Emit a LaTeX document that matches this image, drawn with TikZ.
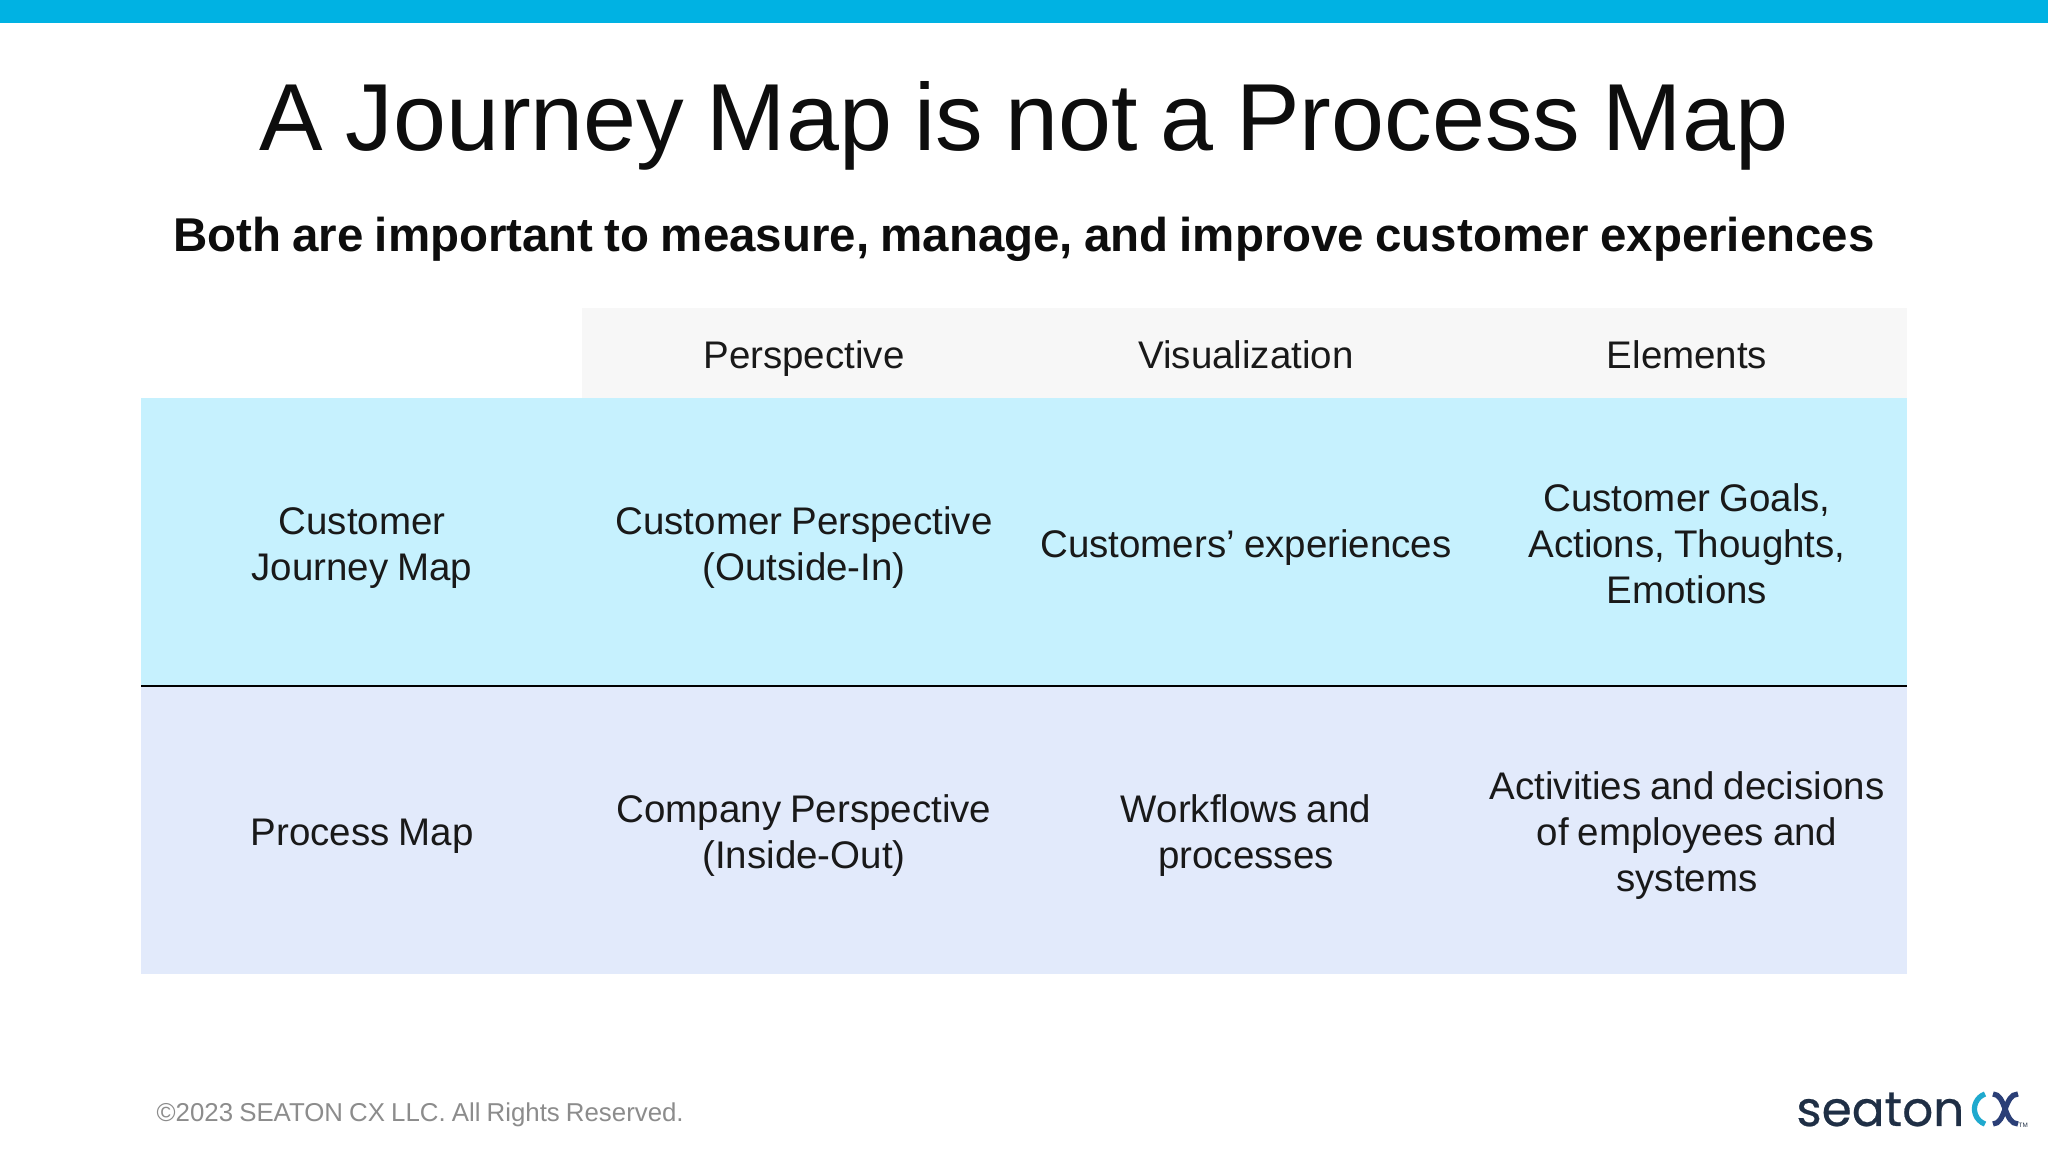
\documentclass[tikz,border=0pt]{standalone}
\usepackage{fontspec}
\usepackage{xcolor}
\setmainfont[WordSpace=0.85]{Liberation Sans}
\newfontfamily\logofont[FakeBold=0.5]{Poppins}
\usetikzlibrary{positioning}
\definecolor{barblue}{HTML}{00B2E3}
\definecolor{headgray}{HTML}{F7F7F7}
\definecolor{journeyblue}{HTML}{C6F1FE}
\definecolor{processblue}{HTML}{E2EAFB}
\definecolor{footgray}{HTML}{8C8C8C}
\definecolor{logonavy}{HTML}{1F2F45}
\definecolor{logocyan}{HTML}{1FA9CE}
\definecolor{logoindigo}{HTML}{2B3F77}
\tikzset{
    cell/.style={inner sep=0pt, align=flush center, text width=4.3cm, font=\fontsize{10.95}{13.1}\selectfont, text=black!90,
        execute at begin node=\strut, execute at end node=\strut},
    head/.style={cell, minimum height=0.9cm},
    rowcell/.style={cell, minimum height=2.87cm}
}

\begin{document}
\begin{tikzpicture}
    \useasboundingbox (0,0) rectangle (20.48,11.52);
    \fill[white] (0,0) rectangle (20.48,11.52);
    \fill[barblue] (0,11.29) rectangle (20.48,11.52);

    % table backgrounds
    \fill[headgray] (5.82,8.44) rectangle (19.07,7.54);
    \fill[journeyblue] (1.41,7.54) rectangle (19.07,4.66);
    \fill[processblue] (1.41,4.66) rectangle (19.07,1.78);

    \node[font=\fontsize{27.1}{32}\selectfont, text=black!95] (title) at (10.24,10.26) {A Journey Map is not a Process Map};
    \node[font=\fontsize{13.5}{17}\selectfont\bfseries, text=black!95] (subtitle) at (10.24,9.13) {Both are important to measure, manage, and improve customer experiences};

    % header row
    \node[head] (perspective) at (8.04,7.93) {Perspective};
    \node[head] (visualization) at (12.46,7.93) {Visualization};
    \node[head] (elements) at (16.87,7.93) {Elements};

    % journey row
    \node[rowcell] (journey) at (3.62,6.04) {Customer\\Journey Map};
    \node[rowcell] (journeypersp) at (8.04,6.04) {Customer Perspective\\(Outside-In)};
    \node[rowcell] (journeyvis) at (12.46,6.04) {Customers’ experiences};
    \node[rowcell] (journeyelem) at (16.87,6.04) {Customer Goals,\\Actions, Thoughts,\\Emotions};

    % process row
    \node[rowcell] (process) at (3.62,3.16) {Process Map};
    \node[rowcell] (processpersp) at (8.04,3.16) {Company Perspective\\(Inside-Out)};
    \node[rowcell] (processvis) at (12.46,3.16) {Workflows and\\processes};
    \node[rowcell] (processelem) at (16.87,3.16) {Activities and decisions\\of employees and\\systems};

    \draw[line width=0.6pt, black] (1.41,4.66) -- (19.07,4.66);

    \node[anchor=west, inner sep=0pt, font=\fontsize{7.35}{9}\selectfont, text=footgray] (copyright) at (1.56,0.37) {©2023 SEATON CX LLC. All Rights Reserved.};

    % logo
    \node[anchor=base east, inner sep=0pt, font=\logofont\fontsize{13.8}{15}\selectfont, text=logonavy] (seaton) at (19.65,0.26) {seaton};
    \draw[logocyan, line width=1.5pt] (19.85,0.58) arc (110:250:0.16);
    \draw[logoindigo, line width=1.5pt] (19.93,0.58) .. controls (20.06,0.58) and (20.04,0.28) .. (20.18,0.28);
    \draw[logoindigo, line width=1.5pt] (20.18,0.58) .. controls (20.04,0.58) and (20.06,0.28) .. (19.93,0.28);
    \node[anchor=west, inner sep=0pt, font=\fontsize{1.8}{2}\selectfont, text=logonavy] (tm) at (20.18,0.27) {TM};
\end{tikzpicture}
\end{document}
